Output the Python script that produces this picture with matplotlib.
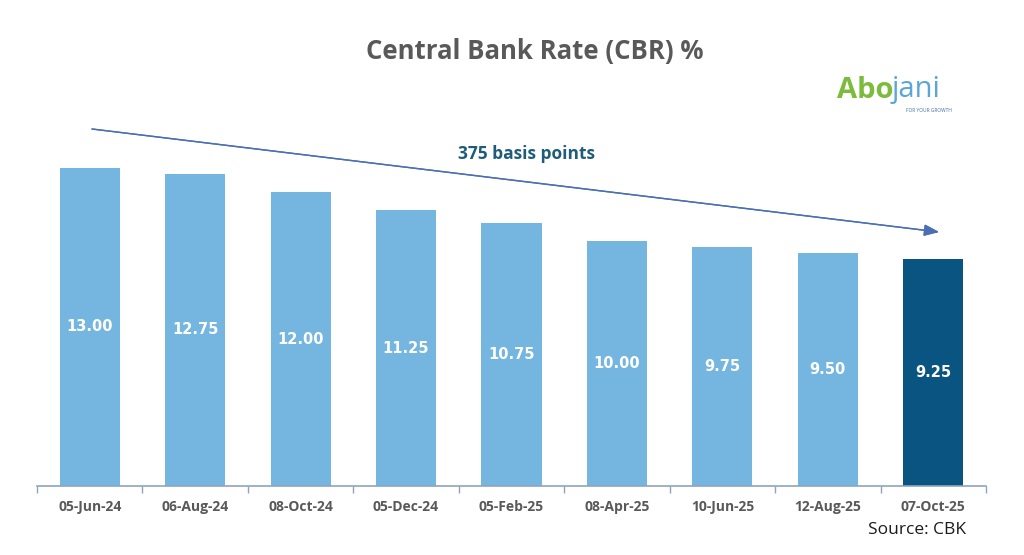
import matplotlib
matplotlib.use("Agg")
import matplotlib.pyplot as plt

dates = ["05-Jun-24", "06-Aug-24", "08-Oct-24", "05-Dec-24", "05-Feb-25",
         "08-Apr-25", "10-Jun-25", "12-Aug-25", "07-Oct-25"]
rates = [13.00, 12.75, 12.00, 11.25, 10.75, 10.00, 9.75, 9.50, 9.25]
title = "Central Bank Rate (CBR) %"
arrow_label = "375 basis points"
source = "Source: CBK"

light = "#74B6E0"
dark = "#0A5482"
colors = [light] * (len(rates) - 1) + [dark]

FONT = "Open Sans"

fig = plt.figure(figsize=(10.24, 5.55), dpi=100)
W, H = 1024, 555
left, right = 37, 986
base, top = 486, 486 - 24.5 * 15
ax = fig.add_axes([left / W, (H - base) / H, (right - left) / W, (base - top) / H])

x = list(range(len(dates)))
ax.bar(x, rates, width=0.57, color=colors, zorder=2)
ax.set_xlim(-0.5, len(dates) - 0.5)
ax.set_ylim(0, 15)

for xi, r in zip(x, rates):
    ax.text(xi, r / 2, f"{r:.2f}", ha="center", va="center", color="white",
            fontsize=10.5, fontweight="bold", family="DejaVu Sans")

for s in ["top", "right", "left"]:
    ax.spines[s].set_visible(False)
ax.spines["bottom"].set_color("#8EA4BE")
ax.spines["bottom"].set_linewidth(1.2)
ax.set_yticks([])
ax.set_xticks([i - 0.5 for i in range(len(dates) + 1)])
ax.set_xticklabels([""] * (len(dates) + 1))
ax.tick_params(axis="x", which="major", length=5, color="#8EA4BE", width=1)
ax.set_xticks(x, minor=True)
ax.set_xticklabels(dates, minor=True)
ax.tick_params(axis="x", which="minor", length=0, pad=10, labelsize=10,
               labelcolor="#595959")
for lab in ax.get_xticklabels(minor=True):
    lab.set_fontweight("bold")
    lab.set_family(FONT)


def fp(px, py):
    return (px / W, 1 - py / H)


# arrow
fig.add_artist(plt.annotate("", xy=fp(939, 232), xytext=fp(92, 129),
               xycoords="figure fraction", textcoords="figure fraction",
               arrowprops=dict(arrowstyle="-|>,head_length=0.9,head_width=0.35",
                               color="#4A6FB5", lw=1.0, shrinkA=0, shrinkB=0)))
fig.text(*fp(526, 154), arrow_label, ha="center", va="center", color="#1E5C7A",
         fontsize=12.5, fontweight="bold", family=FONT)

fig.text(*fp(535, 51), title, ha="center", va="center", color="#595959",
         fontsize=18.5, fontweight="bold", family=FONT)
fig.text(*fp(966, 530), source, ha="right", va="center", color="#1a1a1a",
         fontsize=12.5, family=FONT)

# logo text
fig.text(*fp(837, 90), "Abo", ha="left", va="center", color="#7DBB3C",
         fontsize=21, fontweight="bold", family=FONT)
fig.text(*fp(892, 90), "jani", ha="left", va="center", color="#5AA6D6",
         fontsize=21, family=FONT)
fig.text(*fp(952, 111), "FOR YOUR GROWTH", ha="right", va="center",
         color="#3B6EA5", fontsize=3.5, family=FONT)

fig.savefig("out.png", dpi=100)
